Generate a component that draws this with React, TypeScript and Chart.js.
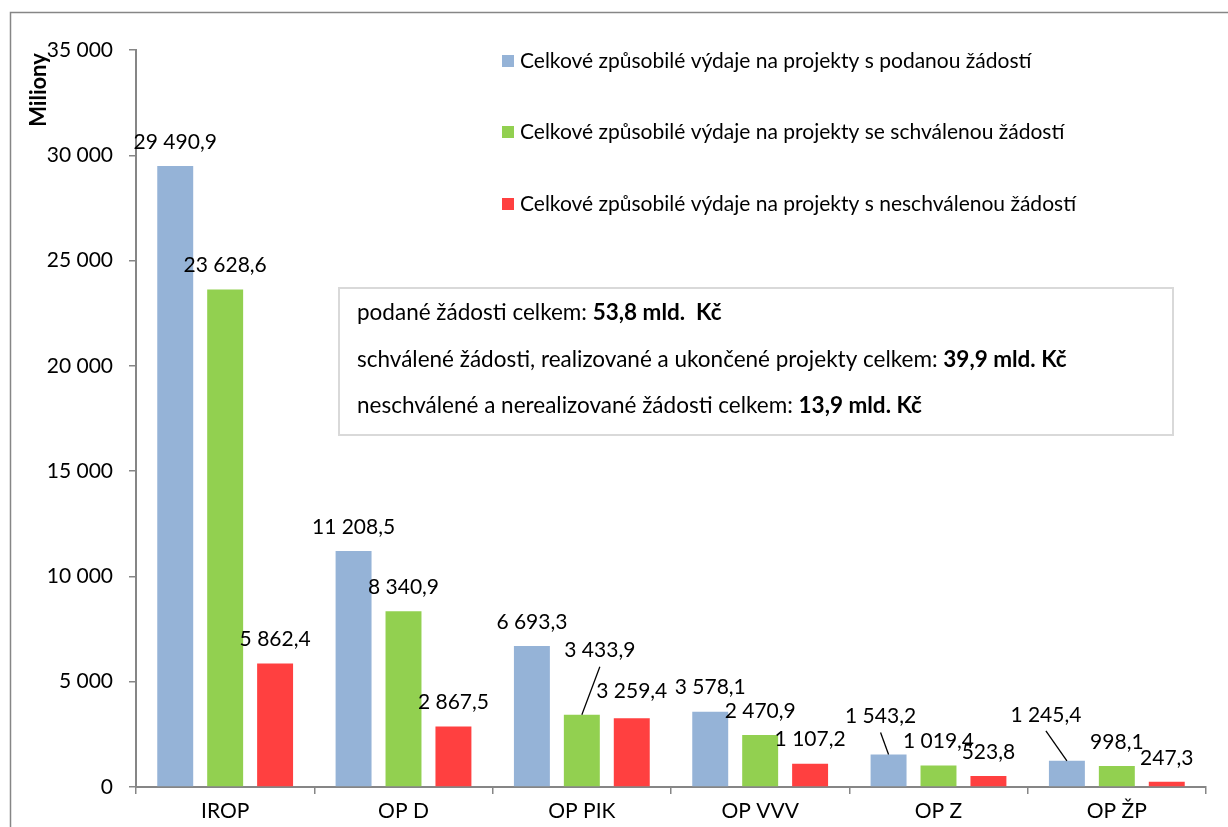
import React, { useEffect, useRef } from 'react';
import { Chart, registerables } from 'chart.js';

Chart.register(...registerables);

// ---- data ----
const categories = ['IROP', 'OP D', 'OP PIK', 'OP VVV', 'OP Z', 'OP ŽP'];
const seriesNames = [
  'Celkové způsobilé výdaje na projekty s podanou žádostí',
  'Celkové způsobilé výdaje na projekty se schválenou žádostí',
  'Celkové způsobilé výdaje na projekty s neschválenou žádostí',
];
const podane = [29490.9, 11208.5, 6693.3, 3578.1, 1543.2, 1245.4];
const schvalene = [23628.6, 8340.9, 3433.9, 2470.9, 1019.4, 998.1];
const neschvalene = [5862.4, 2867.5, 3259.4, 1107.2, 523.8, 247.3];
const yMin = 0;
const yMax = 35000;
const yStep = 5000;
const yTitle = 'Miliony';
const summaryNormal = [
  'podané žádosti celkem: ',
  'schválené žádosti, realizované a ukončené projekty celkem: ',
  'neschválené a nerealizované žádosti celkem: ',
];
const summaryBold = ['53,8 mld.  Kč', '39,9 mld. Kč', '13,9 mld. Kč'];

// ---- styles ----
const COLORS = ['#95B3D7', '#92D050', '#FF4040'];
const FONT = 'Lato, "Open Sans", sans-serif';
const AXIS = '#868686';
const labelShift: Record<string, { dx: number; dy: number; leader?: boolean }> = {
  '1-2': { dx: 18, dy: -64, leader: true },
  '2-2': { dx: 0, dy: -27 },
  '0-4': { dx: -8, dy: -38, leader: true },
  '0-5': { dx: -21, dy: -46, leader: true },
};

const group = (s: string) => s.replace(/\B(?=(\d{3})+(?!\d))/g, ' ');
const fmtVal = (v: number) => {
  const [i, d] = v.toFixed(1).split('.');
  return group(i) + ',' + d;
};

const decorPlugin = {
  id: 'decor',
  beforeDraw(chart: any) {
    const ctx = chart.ctx;
    ctx.save();
    ctx.fillStyle = '#ffffff';
    ctx.fillRect(0, 0, chart.width, chart.height);
    ctx.restore();
  },
  afterDraw(chart: any) {
    const ctx = chart.ctx as CanvasRenderingContext2D;
    ctx.save();
    // outer frame
    ctx.strokeStyle = AXIS;
    ctx.lineWidth = 1.5;
    ctx.strokeRect(10.5, 12.5, chart.width + 20, chart.height + 20);

    // y title
    ctx.save();
    ctx.translate(39, 90);
    ctx.rotate(-Math.PI / 2);
    ctx.font = `bold 22px ${FONT}`;
    ctx.fillStyle = '#000';
    ctx.textAlign = 'center';
    ctx.textBaseline = 'middle';
    ctx.fillText(yTitle, 0, 0);
    ctx.restore();

    // legend
    const legendY = [61, 132, 204];
    chart.data.datasets.forEach((ds: any, i: number) => {
      ctx.fillStyle = ds.backgroundColor;
      ctx.fillRect(502, legendY[i] - 6, 12, 12);
      ctx.fillStyle = '#000';
      ctx.font = `21px ${FONT}`;
      ctx.textAlign = 'left';
      ctx.textBaseline = 'middle';
      ctx.fillText(ds.label, 520, legendY[i]);
    });

    // summary box
    ctx.strokeStyle = '#D9D9D9';
    ctx.lineWidth = 2;
    ctx.strokeRect(339, 288, 834, 147);
    const lineY = [313, 360, 406];
    summaryNormal.forEach((t, i) => {
      ctx.textAlign = 'left';
      ctx.textBaseline = 'middle';
      ctx.fillStyle = '#000';
      ctx.font = `22.5px ${FONT}`;
      ctx.fillText(t, 357, lineY[i]);
      const w = ctx.measureText(t).width;
      ctx.font = `bold 22.5px ${FONT}`;
      ctx.fillText(summaryBold[i], 357 + w, lineY[i]);
    });

    // data labels
    ctx.font = `21px ${FONT}`;
    ctx.textAlign = 'center';
    ctx.textBaseline = 'middle';
    chart.data.datasets.forEach((ds: any, di: number) => {
      const meta = chart.getDatasetMeta(di);
      meta.data.forEach((bar: any, i: number) => {
        const s = labelShift[`${di}-${i}`] || { dx: 0, dy: -24 };
        const lx = bar.x + s.dx;
        const ly = bar.y + s.dy;
        if (s.leader) {
          ctx.strokeStyle = '#000';
          ctx.lineWidth = 1.3;
          ctx.beginPath();
          ctx.moveTo(bar.x, bar.y);
          ctx.lineTo(lx, ly + 16);
          ctx.stroke();
        }
        ctx.fillStyle = '#000';
        ctx.fillText(fmtVal(ds.data[i]), lx, ly);
      });
    });
    ctx.restore();
  },
};

export default function App() {
  const ref = useRef<HTMLCanvasElement | null>(null);
  useEffect(() => {
    document.body.style.margin = '0';
    const chart = new Chart(ref.current as HTMLCanvasElement, {
      type: 'bar',
      data: {
        labels: categories,
        datasets: [podane, schvalene, neschvalene].map((d, i) => ({
          label: seriesNames[i],
          data: d,
          backgroundColor: COLORS[i],
          borderWidth: 0,
          categoryPercentage: 0.84,
          barPercentage: 0.72,
        })),
      },
      options: {
        animation: false,
        responsive: false,
        devicePixelRatio: 1,
        layout: { padding: { left: 0, top: 50, right: 22, bottom: 0 } },
        plugins: { legend: { display: false }, tooltip: { enabled: false } },
        scales: {
          x: {
            grid: { offset: true, drawOnChartArea: false, tickLength: 7, color: AXIS, lineWidth: 1.5 },
            border: { color: AXIS, width: 2 },
            ticks: { color: '#000', font: { family: FONT, size: 21 }, padding: 5 },
            afterFit: (s: any) => { s.height = 40; },
          },
          y: {
            min: yMin,
            max: yMax,
            grid: { drawOnChartArea: false, tickLength: 7, color: AXIS, lineWidth: 1.5 },
            border: { color: AXIS, width: 2 },
            ticks: {
              stepSize: yStep,
              color: '#000',
              font: { family: FONT, size: 21 },
              padding: 16,
              callback: (v: any) => group(String(v)),
            },
            afterFit: (s: any) => { s.width = 136; },
          },
        },
      },
      plugins: [decorPlugin],
    } as any);
    return () => chart.destroy();
  }, []);
  return (
    <div style={{ position: 'absolute', left: 0, top: 0, width: 1228, height: 827 }}>
      <canvas ref={ref} width={1228} height={827} />
    </div>
  );
}
